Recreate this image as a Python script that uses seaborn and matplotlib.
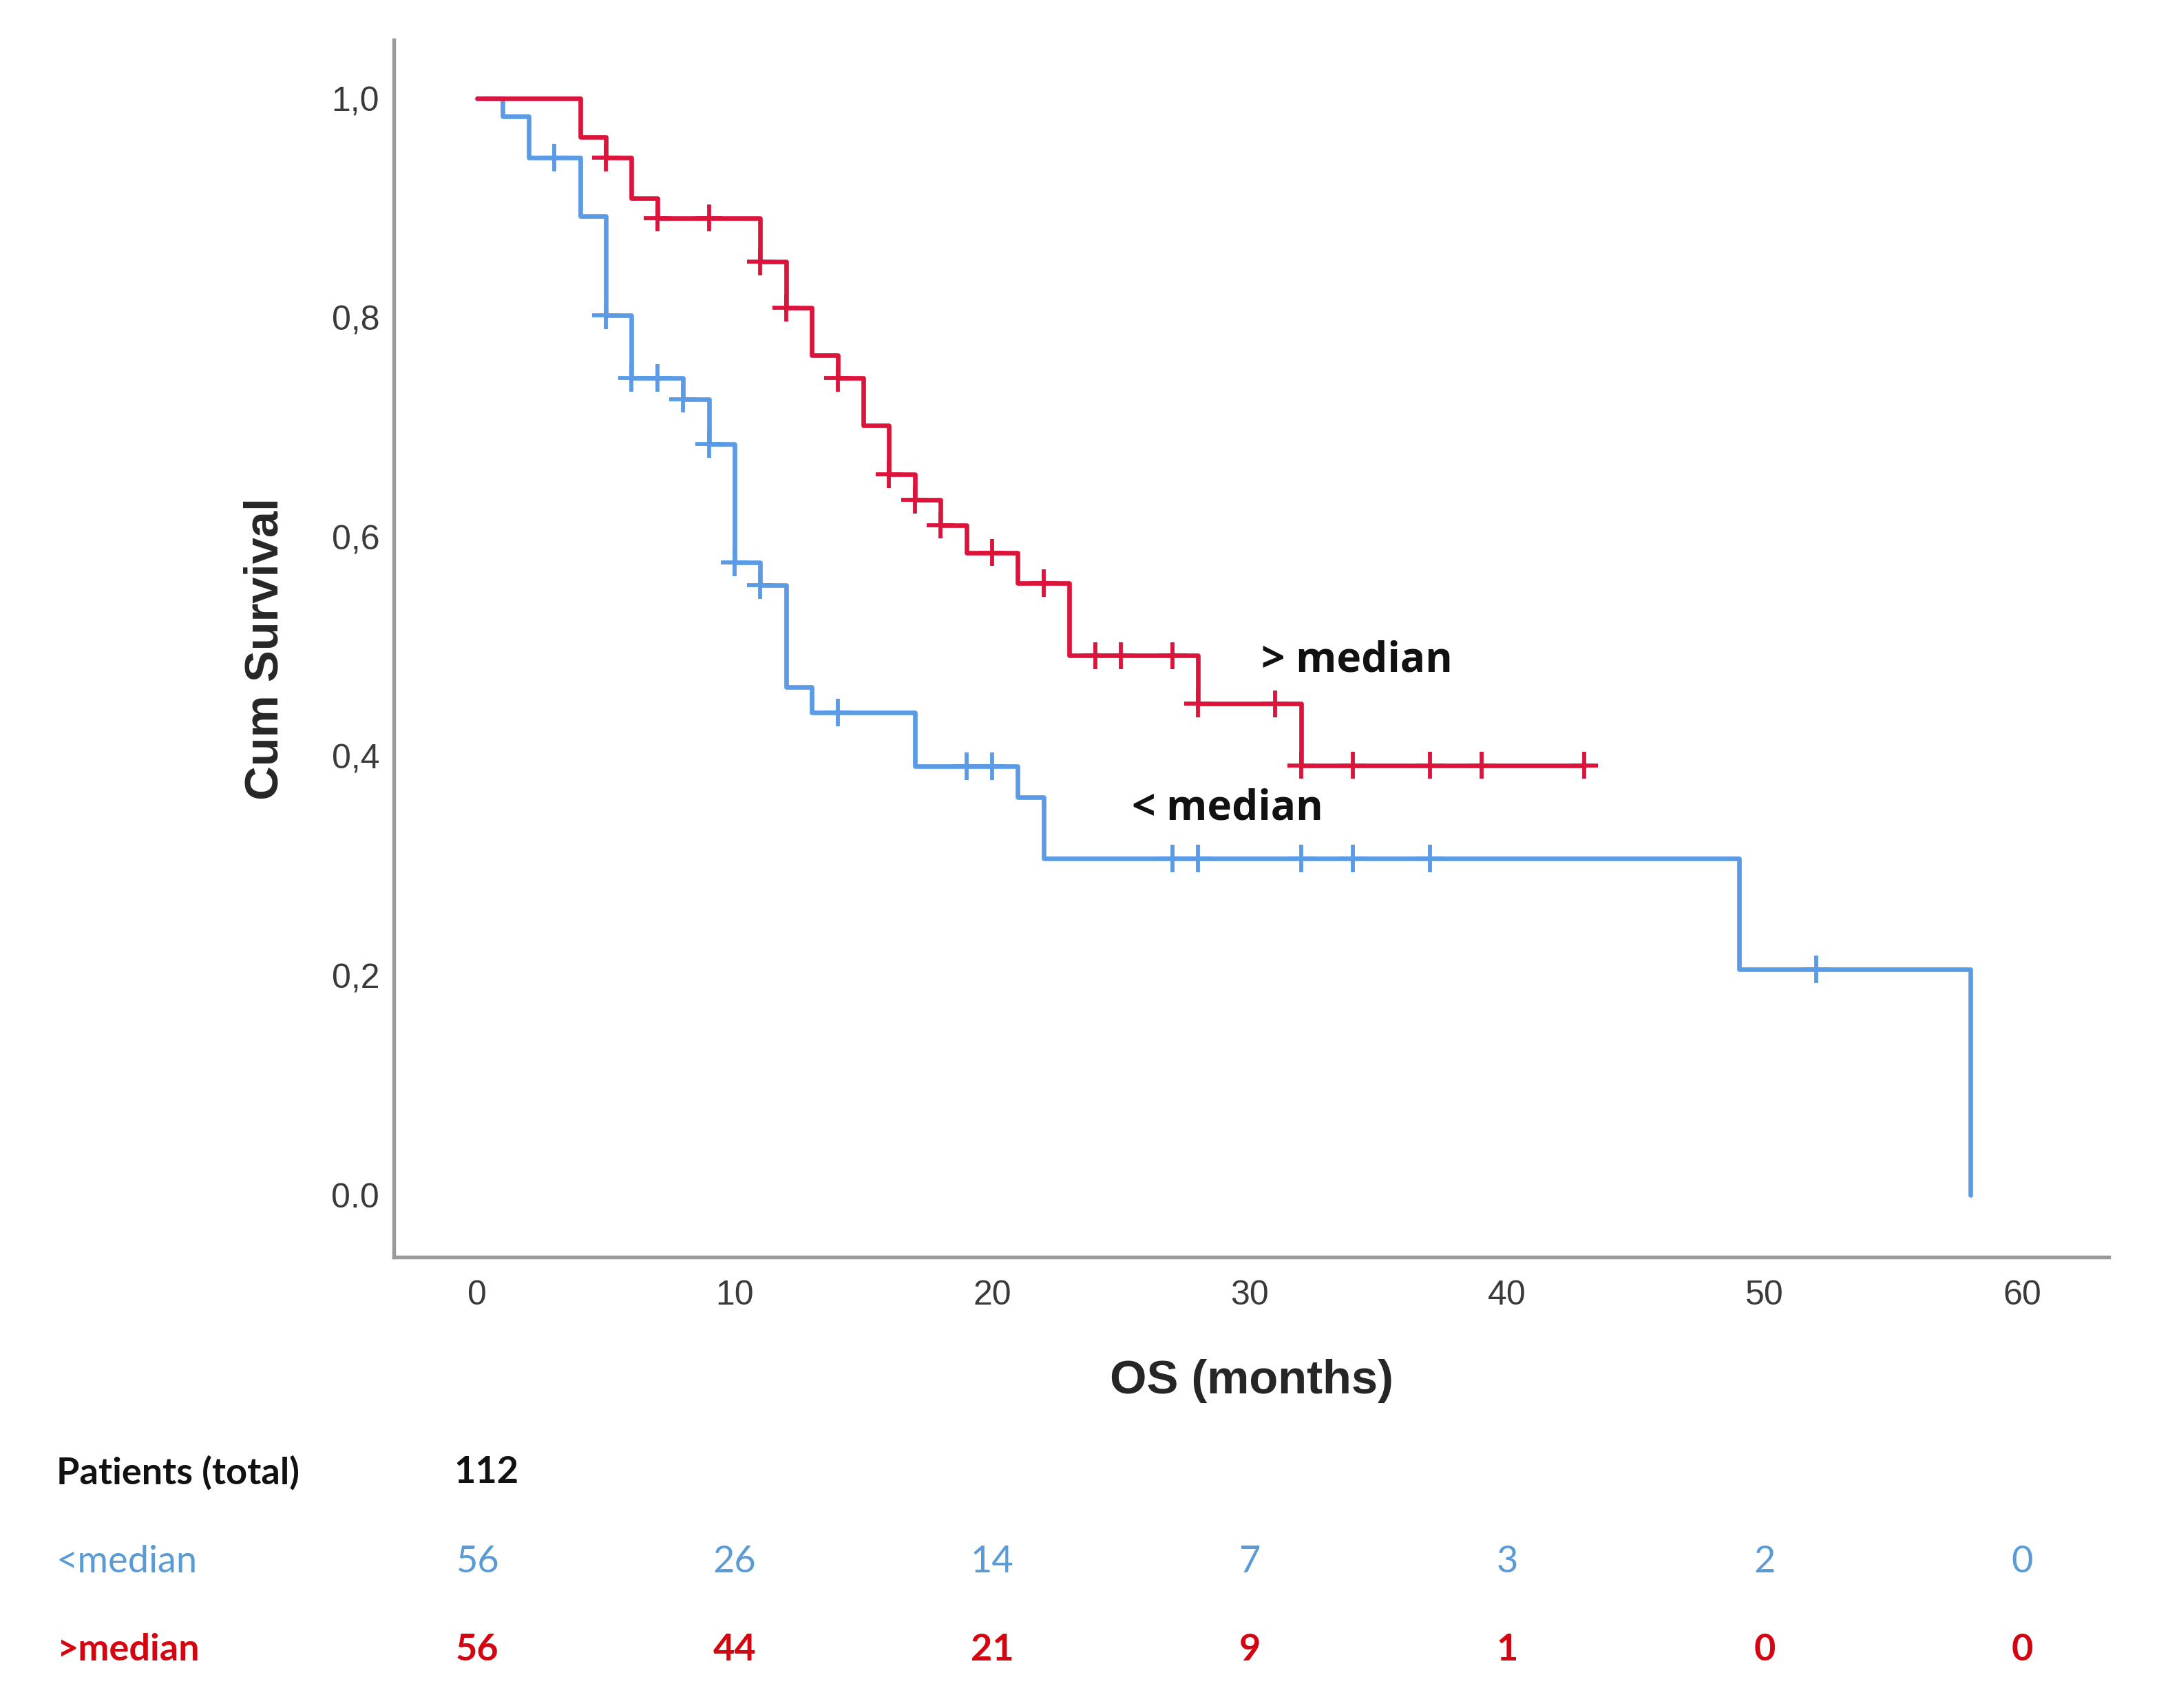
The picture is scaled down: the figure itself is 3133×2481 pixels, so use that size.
import numpy as np
import pandas as pd
import matplotlib
matplotlib.use("Agg")
import matplotlib.pyplot as plt
import matplotlib.transforms as mtransforms
import seaborn as sns

# ---------------- data ----------------
group_labels = ["< median", "> median"]

time_low = [0, 1, 2, 4, 5, 6, 8, 9, 10, 11, 12, 13, 17, 21, 22, 49, 58]
surv_low = [1.0, 0.984, 0.946, 0.893, 0.802, 0.745, 0.726, 0.685, 0.577,
            0.556, 0.463, 0.440, 0.391, 0.363, 0.307, 0.206, 0.0]
cens_low = [3, 5, 6, 7, 8, 9, 10, 11, 14, 19, 20, 27, 28, 32, 34, 37, 52]
end_low = 58

time_high = [0, 4, 5, 6, 7, 11, 12, 13, 14, 15, 16, 17, 18, 19, 21, 23, 28, 32]
surv_high = [1.0, 0.965, 0.946, 0.909, 0.891, 0.851, 0.809, 0.766, 0.745,
             0.702, 0.657, 0.634, 0.611, 0.586, 0.558, 0.492, 0.448, 0.392]
cens_high = [5, 7, 9, 11, 12, 14, 16, 17, 18, 20, 22, 24, 25, 27, 28, 31,
             32, 34, 37, 39, 43]
end_high = 43

x_ticks = [0, 10, 20, 30, 40, 50, 60]
y_ticks = [0.0, 0.2, 0.4, 0.6, 0.8, 1.0]
y_tick_labels = ["0.0", "0,2", "0,4", "0,6", "0,8", "1,0"]

risk_times = [0, 10, 20, 30, 40, 50, 60]
risk_low = [56, 26, 14, 7, 3, 2, 0]
risk_high = [56, 44, 21, 9, 1, 0, 0]
total_patients = 112

# ---------------- styles ----------------
c_low_line = "#5b9be6"
c_high_line = "#dc143c"
c_low_text = "#5b9bd5"
c_high_text = "#d40511"
palette = {group_labels[0]: c_low_line, group_labels[1]: c_high_line}

sns.set_style("white")
plt.rcParams["font.family"] = ["Liberation Sans", "DejaVu Sans"]


def step_value(times, survs, t):
    i = np.searchsorted(np.asarray(times, dtype=float), t, side="right") - 1
    return survs[i]


# build tables
rows = []
for g, ts, ss, end in [(group_labels[0], time_low, surv_low, end_low),
                       (group_labels[1], time_high, surv_high, end_high)]:
    for t, s in zip(ts, ss):
        rows.append((g, t, s))
    if end > ts[-1]:
        rows.append((g, end, ss[-1]))
curve_df = pd.DataFrame(rows, columns=["group", "time", "surv"])

crow = []
for g, ts, ss, cs in [(group_labels[0], time_low, surv_low, cens_low),
                      (group_labels[1], time_high, surv_high, cens_high)]:
    for c in cs:
        crow.append((g, c, step_value(ts, ss, c)))
cens_df = pd.DataFrame(crow, columns=["group", "time", "surv"])

W, H = 3133, 2481
fig = plt.figure(figsize=(W / 300, H / 300), dpi=300)
ax = fig.add_axes([572 / W, 1 - 1826 / H, (3063 - 572) / W, (1826 - 58) / H])

sns.lineplot(data=curve_df, x="time", y="surv", hue="group", palette=palette,
             estimator=None, sort=False, drawstyle="steps-post",
             linewidth=1.6, legend=False, ax=ax)
sns.scatterplot(data=cens_df, x="time", y="surv", hue="group", palette=palette,
                marker="+", s=90, linewidth=1.4, legend=False, ax=ax, zorder=3)

ax.set_xlim(-3.235, 63.37)
ax.set_ylim(-0.0565, 1.0534)
ax.set_xticks(x_ticks)
ax.set_xticklabels([str(v) for v in x_ticks])
ax.set_yticks(y_ticks)
ax.set_yticklabels(y_tick_labels)
ax.tick_params(axis="both", length=0, labelsize=12, labelcolor="#3a3a3a")
ax.tick_params(axis="y", pad=5)
ax.tick_params(axis="x", pad=8)

for side in ["top", "right"]:
    ax.spines[side].set_visible(False)
for side in ["left", "bottom"]:
    ax.spines[side].set_color("#9a9a9a")
    ax.spines[side].set_linewidth(1.3)

ax.set_xlabel("OS (months)", fontsize=16.5, fontweight="bold", va="center")
ax.xaxis.set_label_coords(0.5, (1826 - 2006) / (1826 - 58))
ax.set_ylabel("Cum Survival", fontsize=16.5, fontweight="bold", va="center")
ax.yaxis.set_label_coords((385 - 572) / (3063 - 572), 0.5)

ann_font = ["Open Sans", "DejaVu Sans"]
ax.text(30.45, 0.487, "> median", fontsize=14.5, fontweight="bold",
        family=ann_font, ha="left", va="center", color="#111111")
ax.text(25.43, 0.352, "< median", fontsize=14.5, fontweight="bold",
        family=ann_font, ha="left", va="center", color="#111111")

# ---------------- number at risk table ----------------
tab_font = ["Lato", "DejaVu Sans"]
tab_size = 13
blend = mtransforms.blended_transform_factory(ax.transData, fig.transFigure)
shift = mtransforms.ScaledTranslation(14 / 300, 0, fig.dpi_scale_trans)
y_tot = 1 - 2139 / H
y_low = 1 - 2268 / H
y_high = 1 - 2396 / H

fig.text(82 / W, y_tot, "Patients (total)", fontsize=tab_size, fontweight="bold",
         family=tab_font, ha="left", va="center", color="#111111")
ax.text(risk_times[0], y_tot, str(total_patients), transform=blend + shift,
        fontsize=tab_size, fontweight="bold", family=tab_font, ha="center",
        va="center", color="#111111", clip_on=False)
fig.text(82 / W, y_low, "<median", fontsize=tab_size, family=tab_font,
         ha="left", va="center", color=c_low_text)
fig.text(82 / W, y_high, ">median", fontsize=tab_size, fontweight="bold",
         family=tab_font, ha="left", va="center", color=c_high_text)
for t, n in zip(risk_times, risk_low):
    ax.text(t, y_low, str(n), transform=blend, fontsize=tab_size, family=tab_font,
            ha="center", va="center", color=c_low_text, clip_on=False)
for t, n in zip(risk_times, risk_high):
    ax.text(t, y_high, str(n), transform=blend, fontsize=tab_size, fontweight="bold",
            family=tab_font, ha="center", va="center", color=c_high_text,
            clip_on=False)

fig.savefig("out.png", dpi=300, facecolor="white")
